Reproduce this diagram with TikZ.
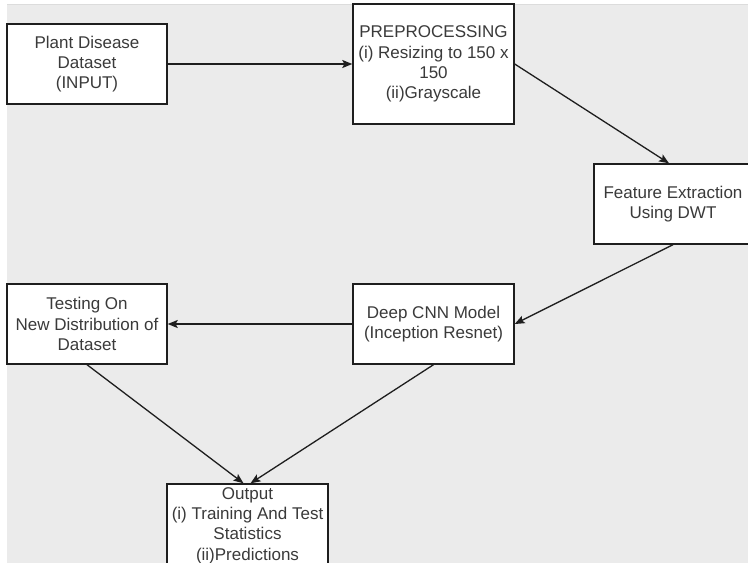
\documentclass[tikz,border=0pt]{standalone}
\usepackage{fontspec}
\setmainfont{Liberation Sans}
\usetikzlibrary{arrows.meta,calc}
\definecolor{bggray}{HTML}{EBEBEB}
\definecolor{edgegray}{HTML}{DCDCDC}
\definecolor{inkc}{HTML}{1E1E1E}
\definecolor{txtc}{HTML}{3A3A3A}
\begin{document}
\begin{tikzpicture}[x=1pt,y=-1pt,
  box/.style={draw=inkc,line width=1.4pt,fill=white,rectangle,inner sep=0pt,
    align=center,text=txtc,font=\fontsize{17}{20.3}\selectfont},
  conn/.style={draw=inkc,line width=1.3pt,-{Stealth[length=10pt,width=8pt,inset=2pt]}}]
\useasboundingbox (0,0) rectangle (748,563);
\clip (0,0) rectangle (748,563);
\fill[white] (0,0) rectangle (748,563);
\fill[bggray] (7,4) rectangle (748,563);
\draw[edgegray,line width=1pt] (7,4.5) -- (748,4.5);
\node[box,minimum width=160pt,minimum height=80pt] (n1) at (87,64) {Plant Disease\\Dataset\\(INPUT)};
\node[box,minimum width=161pt,minimum height=120pt] (n2) at (433.5,64) {PREPROCESSING\\(i) Resizing to 150 x\\150\\(ii)Grayscale};
\node[box,minimum width=158pt,minimum height=80pt] (n3) at (673,204) {Feature Extraction\\Using DWT};
\node[box,minimum width=160pt,minimum height=80pt] (n4) at (87,324) {Testing On\\New Distribution of\\Dataset};
\node[box,minimum width=161pt,minimum height=80pt] (n5) at (433.5,324) {Deep CNN Model\\(Inception Resnet)};
\node[box,minimum width=161pt,minimum height=83pt] (n6) at (247.5,525.5) {Output\\(i) Training And Test\\Statistics\\(ii)Predictions};
\draw[conn] (n1.east) -- (n2.west);
\draw[conn] (n2.east) -- ($(n3.north)+(-4,0)$);
\draw[conn] (n3.south) -- (n5.east);
\draw[conn] (n5.west) -- (n4.east);
\draw[conn] (n4.south) -- ($(n6.north)+(-4,0)$);
\draw[conn] (n5.south) -- ($(n6.north)+(3,0)$);
\end{tikzpicture}
\end{document}
